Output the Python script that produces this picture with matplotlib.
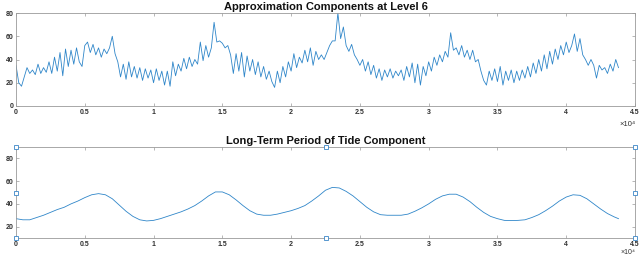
import numpy as np
import matplotlib
matplotlib.use("Agg")
import matplotlib.pyplot as plt

# ---- data ----
approx_step = 200
approx_vals = [
    35, 20, 17, 25, 33,   28, 31, 27, 36, 28,   33, 29, 38, 28, 42,   30, 46, 26, 49, 34,
    48, 36, 50, 38, 34,   52, 55, 46, 53, 44,   50, 42, 49, 45, 50,   60, 45, 38, 25, 36,
    23, 38, 25, 34, 24,   33, 22, 32, 24, 31,   20, 32, 22, 30, 18,   30, 17, 38, 26, 36,
    30, 41, 32, 42, 34,   40, 36, 55, 39, 52,   42, 50, 72, 55, 56,   54, 50, 52, 44, 28,
    45, 30, 46, 25, 43,   30, 40, 27, 38, 25,   34, 23, 30, 21, 16,   30, 20, 34, 25, 38,
    30, 45, 33, 42, 37,   48, 38, 50, 35, 47,   40, 44, 40, 46, 52,   56, 56, 80, 58, 68,
    52, 47, 53, 44, 40,   35, 40, 30, 38, 27,   35, 24, 32, 22, 31,   25, 32, 24, 30, 26,
    31, 22, 34, 25, 37,   20, 36, 18, 34, 26,   38, 30, 42, 35, 44,   38, 47, 42, 63, 48,
    50, 44, 52, 42, 48,   40, 48, 38, 40, 30,   22, 18, 30, 22, 32,   21, 34, 18, 30, 22,
    31, 20, 30, 22, 31,   24, 34, 25, 37, 28,   40, 30, 44, 32, 47,   36, 49, 40, 52, 44,
    55, 46, 52, 62, 47,   58, 44, 40, 35, 40,   35, 24, 35, 31, 33,   28, 36, 30, 40, 33,
]
approx_x = np.arange(len(approx_vals)) * approx_step

tide_x = [0, 500, 1000, 1500, 2000, 2500, 3000, 3500, 4000, 4500, 5000, 5500, 6000, 6500,
          7000, 7500, 8000, 8500, 9000, 9500, 10000, 10500, 11000, 11500, 12000, 12500,
          13000, 13500, 14000, 14500, 15000, 15500, 16000, 16500, 17000, 17500, 18000,
          18500, 19000, 19500, 20000, 20500, 21000, 21500, 22000, 22500, 23000, 23500,
          24000, 24500, 25000, 25500, 26000, 26500, 27000, 27500, 28000, 28500, 29000,
          29500, 30000, 30500, 31000, 31500, 32000, 32500, 33000, 33500, 34000, 34500,
          35000, 35500, 36000, 36500, 37000, 37500, 38000, 38500, 39000, 39500, 40000,
          40500, 41000, 41500, 42000, 42500, 43000, 43500, 43800]
tide_vals = [27, 26, 26, 28, 30, 32.5, 35, 37, 40, 42.5, 45.5, 48, 49, 48,
             44.5, 39, 33.5, 29, 26, 25, 25.5, 27, 29, 31, 33, 35.5,
             38.5, 42.5, 47, 50.5, 50.5, 48, 43.5, 38.5, 34, 31, 30,
             30, 31, 32.5, 34, 36, 38.5, 42.5, 47, 52, 54.5, 54,
             51, 47, 42, 37, 33, 30.5, 30, 30, 30, 31, 33.5,
             36.5, 40, 44, 47, 48.5, 48.5, 46, 42, 37, 32.5, 29,
             27, 25.5, 25.3, 25.5, 26, 28, 30.5, 34, 38, 42.5, 46,
             48, 47.5, 44.5, 40, 35.5, 31.5, 28.5, 27]

titles = ["Approximation Components at Level 6", "Long-Term Period of Tide Component"]
xticks = [0, 5000, 10000, 15000, 20000, 25000, 30000, 35000, 40000, 45000]
xticklabels = ["0", "0.5", "1", "1.5", "2", "2.5", "3", "3.5", "4", "4.5"]
yticks_top = [0, 20, 40, 60, 80]
yticks_bot = [20, 40, 60, 80]
exp_label = "×10⁴"

plt.rcParams['font.family'] = ['Liberation Sans', 'DejaVu Sans']

fig = plt.figure(figsize=(6.39, 2.57), dpi=100)
ax1 = fig.add_axes([16/639, 1-106/257, 619/639, 93/257])
ax2 = fig.add_axes([16/639, 1-238/257, 619/639, 91/257])

line_col = '#2f86c9'
ax1.plot(approx_x, approx_vals, color=line_col, lw=0.6)
ax2.plot(tide_x, tide_vals, color=line_col, lw=0.6)

frame_col = '#9a9a9a'
for ax, t, yt, yl in [(ax1, titles[0], yticks_top, (0, 80)), (ax2, titles[1], yticks_bot, (10, 90))]:
    ax.set_xlim(0, 45000)
    ax.set_ylim(*yl)
    ax.set_xticks(xticks)
    ax.set_xticklabels(xticklabels)
    ax.set_yticks(yt)
    ax.tick_params(direction='in', top=True, right=True, length=2.5, width=0.5,
                   color=frame_col, labelcolor='#303030', labelsize=5, pad=2.0)
    for lab in ax.get_xticklabels() + ax.get_yticklabels():
        lab.set_fontweight('bold')
    for s in ax.spines.values():
        s.set_color(frame_col)
        s.set_linewidth(0.6)
    ax.set_title(t, fontsize=8, fontweight='bold', pad=2.5, color='#111111')

fig.text(636/639, 1-121/257, exp_label, ha='right', va='top', fontsize=5.5, color='#303030')
fig.text(636/639, 1-256.5/257, exp_label, ha='right', va='bottom', fontsize=5, color='#303030')

# selection handles on second axes
hx = [0, 22500, 45000, 0, 45000, 0, 22500, 45000]
hy = [90, 90, 90, 50, 50, 10, 10, 10]
ax2.plot(hx, hy, linestyle='none', marker='s', markersize=2.2, markerfacecolor='white',
         markeredgecolor='#3a86c8', markeredgewidth=0.6, clip_on=False, zorder=5)

fig.savefig('out.png', dpi=100)
